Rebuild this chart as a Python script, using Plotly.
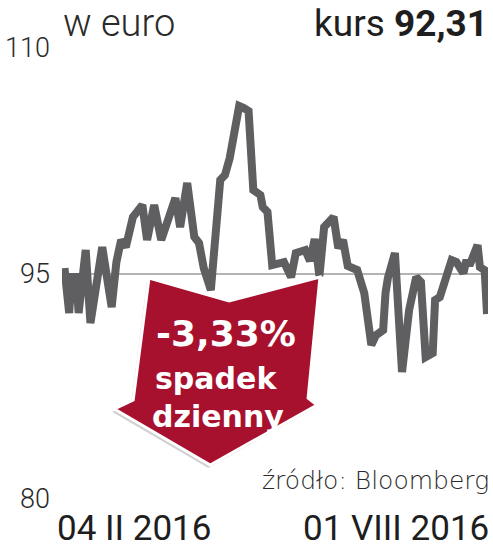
import plotly.graph_objects as go

# ---- data ----
dates = [
    "2016-02-04", "2016-02-06", "2016-02-07", "2016-02-09", "2016-02-10",
    "2016-02-13", "2016-02-15", "2016-02-20", "2016-02-24", "2016-02-26",
    "2016-02-28", "2016-03-01", "2016-03-04", "2016-03-08", "2016-03-10",
    "2016-03-13", "2016-03-16", "2016-03-22", "2016-03-24", "2016-03-27",
    "2016-03-30", "2016-04-01", "2016-04-03", "2016-04-06", "2016-04-10",
    "2016-04-12", "2016-04-14", "2016-04-18", "2016-04-20", "2016-04-22",
    "2016-04-24", "2016-04-27", "2016-04-28", "2016-04-30", "2016-05-02",
    "2016-05-07", "2016-05-10", "2016-05-12", "2016-05-16", "2016-05-18",
    "2016-05-20", "2016-05-22", "2016-05-24", "2016-05-28", "2016-05-30",
    "2016-06-01", "2016-06-03", "2016-06-07", "2016-06-10", "2016-06-13",
    "2016-06-15", "2016-06-18", "2016-06-19", "2016-06-20", "2016-06-23",
    "2016-06-24", "2016-06-26", "2016-06-29", "2016-07-02", "2016-07-04",
    "2016-07-06", "2016-07-09", "2016-07-10", "2016-07-12", "2016-07-14",
    "2016-07-17", "2016-07-19", "2016-07-22", "2016-07-23", "2016-07-25",
    "2016-07-28", "2016-07-29", "2016-07-31", "2016-08-01",
]
values = [
    95.36, 92.37, 94.76, 94.76, 92.37,
    96.56, 91.70, 96.76, 92.77, 95.76,
    97.23, 96.76, 98.76, 99.55, 97.23,
    99.55, 97.23, 100.02, 98.09, 101.02,
    97.43, 97.03, 95.36, 93.90, 101.22,
    101.55, 102.68, 106.14, 106.00, 105.80,
    100.55, 100.22, 99.42, 99.09, 95.56,
    95.76, 94.76, 96.36, 96.56, 95.83,
    97.29, 94.83, 98.09, 98.76, 96.69,
    97.23, 95.50, 95.23, 93.70, 90.24,
    90.90, 91.24, 93.70, 94.70, 96.36,
    93.03, 88.44, 92.57, 94.76, 94.43,
    89.44, 89.71, 93.23, 93.43, 94.37,
    95.89, 95.76, 95.03, 95.70, 95.70,
    96.89, 95.43, 95.23, 92.31,
]
y_ticks = [80, 95, 110]
y_tick_labels = ["80", "95", "110"]
x_labels = ["04 II 2016", "01 VIII 2016"]
unit_label = "w euro"
rate_label = "kurs <b>92,31</b>"
change_label = "-3,33%"
change_words = ["spadek", "dzienny"]
source_label = "źródło: Bloomberg"

# ---- layout geometry ----
W, H = 493, 551
L, R, T, B = 57, 5, 48, 52
PW, PH = W - L - R, H - T - B


def pxx(x):
    return (x - L) / PW


def pxy(y):
    return (H - B - y) / PH


def path(points, dx=0, dy=0):
    s = ""
    for i, (x, y) in enumerate(points):
        s += ("M" if i == 0 else "L") + f"{pxx(x + dx):.4f},{pxy(y + dy):.4f} "
    return s + "Z"


arrow_pts = [(145, 278), (226, 301), (318, 277), (306, 398), (315, 405),
             (207, 465), (110, 409), (129, 400)]

fig = go.Figure()
fig.add_trace(go.Scatter(
    x=dates, y=values, mode="lines",
    line=dict(color="#5f5f61", width=8),
    hoverinfo="skip", showlegend=False,
))

FONT = "Roboto"
DARK = "#1e1e1e"

fig.update_layout(
    width=W, height=H,
    margin=dict(l=L, r=R, t=T, b=B, pad=0),
    paper_bgcolor="white", plot_bgcolor="white",
    showlegend=False,
    xaxis=dict(range=["2016-02-02 23:00", "2016-08-01 10:00"],
               showgrid=False, zeroline=False, showline=False,
               showticklabels=False, ticks=""),
    yaxis=dict(range=[80, 110], tickvals=y_ticks, ticktext=y_tick_labels,
               showgrid=True, gridcolor="#b4b4b4", gridwidth=1.5,
               zeroline=False, showline=False, ticks="",
               ticklabelstandoff=11,
               tickfont=dict(family=FONT, size=27, color="#2a2a2a", weight=300)),
    shapes=[
        dict(type="path", xref="paper", yref="paper",
             path=path(arrow_pts, -2, 3), fillcolor="rgba(0,0,0,0.18)",
             line=dict(width=0), layer="above"),
        dict(type="path", xref="paper", yref="paper",
             path=path(arrow_pts), fillcolor="#a8112e",
             line=dict(color="white", width=3), layer="above"),
    ],
)

ann = []
ann.append(dict(text=unit_label, x=pxx(57), y=pxy(46), xanchor="left", yanchor="bottom",
                font=dict(family=FONT, size=38, color="#2a2a2a", weight=300)))
ann.append(dict(text=rate_label, x=pxx(489), y=pxy(46), xanchor="right", yanchor="bottom",
                font=dict(family=FONT, size=37, color=DARK)))
ann.append(dict(text=source_label, x=pxx(490), y=pxy(496), xanchor="right", yanchor="bottom",
                font=dict(family="DejaVu Sans", size=25, color="#2a2a2a", weight=200)))
ann.append(dict(text=x_labels[0], x=pxx(51), y=pxy(528), xanchor="left", yanchor="middle",
                font=dict(family=FONT, size=35, color=DARK)))
ann.append(dict(text=x_labels[1], x=pxx(490), y=pxy(528), xanchor="right", yanchor="middle",
                font=dict(family=FONT, size=35, color=DARK)))
ann.append(dict(text=f"<b>{change_label}</b>", x=pxx(223), y=pxy(333), xanchor="center", yanchor="middle",
                font=dict(family="DejaVu Sans", size=36, color="white")))
ann.append(dict(text=f"<b>{change_words[0]}</b>", x=pxx(213), y=pxy(378), xanchor="center", yanchor="middle",
                font=dict(family="DejaVu Sans", size=30, color="white")))
ann.append(dict(text=f"<b>{change_words[1]}</b>", x=pxx(215), y=pxy(416), xanchor="center", yanchor="middle",
                font=dict(family="DejaVu Sans", size=30, color="white")))
for a in ann:
    a.update(xref="paper", yref="paper", showarrow=False, borderpad=0)
fig.update_layout(annotations=ann)

fig.write_html("out.html", config={"displayModeBar": False},
               post_script="document.body.style.margin='0';document.body.style.overflow='hidden';")
